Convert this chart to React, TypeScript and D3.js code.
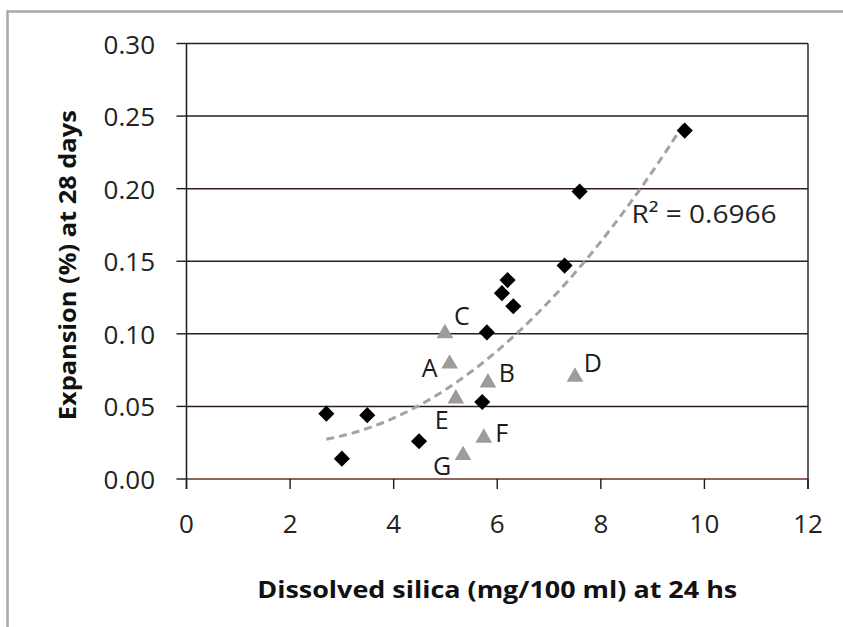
import React from "react";
import * as d3 from "d3";

// black diamonds: all mixes
const mixSilica = [2.7, 3.0, 3.49, 4.49, 5.71, 5.8, 6.09, 6.2, 6.31, 7.3, 7.59, 9.62];
const mixExpansion = [0.045, 0.014, 0.044, 0.026, 0.053, 0.101, 0.128, 0.137, 0.119, 0.147, 0.198, 0.24];

// grey triangles: labelled aggregates
const aggNames = ["A", "B", "C", "D", "E", "F", "G"];
const aggSilica = [5.08, 5.82, 4.99, 7.5, 5.2, 5.74, 5.34];
const aggExpansion = [0.081, 0.068, 0.102, 0.072, 0.057, 0.03, 0.018];

const xTicks = [0, 2, 4, 6, 8, 10, 12];
const yTicks = [0, 0.05, 0.1, 0.15, 0.2, 0.25, 0.3];
const r2Text = "R\u00b2 = 0.6966";
const xTitle = "Dissolved silica (mg/100 ml) at 24 hs";
const yTitle = "Expansion (%) at 28 days";

// where each letter sits relative to its triangle (px)
const labelOffset: Record<string, [number, number]> = {
  A: [-20, 6],
  B: [19, -8],
  C: [17, -16],
  D: [18, -12],
  E: [-14, 23],
  F: [18, -3],
  G: [-21, 12],
};

// least squares 2nd order polynomial, like the spreadsheet trendline
function fitQuadratic(xs: number[], ys: number[]) {
  const s = [0, 0, 0, 0, 0];
  const t = [0, 0, 0];
  xs.forEach((x, i) => {
    for (let k = 0; k < 5; k++) s[k] += Math.pow(x, k);
    for (let k = 0; k < 3; k++) t[k] += Math.pow(x, k) * ys[i];
  });
  const m = [
    [s[0], s[1], s[2], t[0]],
    [s[1], s[2], s[3], t[1]],
    [s[2], s[3], s[4], t[2]],
  ];
  for (let i = 0; i < 3; i++) {
    for (let j = i + 1; j < 3; j++) {
      const f = m[j][i] / m[i][i];
      for (let k = i; k < 4; k++) m[j][k] -= f * m[i][k];
    }
  }
  const c = [0, 0, 0];
  for (let i = 2; i >= 0; i--) {
    let v = m[i][3];
    for (let k = i + 1; k < 3; k++) v -= m[i][k] * c[k];
    c[i] = v / m[i][i];
  }
  return (x: number) => c[0] + c[1] * x + c[2] * x * x;
}

const W = 843;
const H = 627;
const FONT = "'Open Sans', sans-serif";

export default function App() {
  const x = d3.scaleLinear().domain([0, 12]).range([186.5, 808]);
  const y = d3.scaleLinear().domain([0, 0.3]).range([479, 43.5]);

  const allX = mixSilica.concat(aggSilica);
  const allY = mixExpansion.concat(aggExpansion);
  const trend = fitQuadratic(allX, allY);
  const [x0, x1] = d3.extent(allX) as [number, number];
  const trendPts = d3.range(0, 81).map((i) => x0 + ((x1 - x0) * i) / 80);
  const trendPath = d3
    .line<number>()
    .x((d) => x(d))
    .y((d) => y(trend(d)))(trendPts);

  const diamond = d3.symbol(d3.symbolSquare, 130)();
  const triSize = 120;
  const triR = Math.sqrt(triSize / (Math.sqrt(3) * 3));
  const triangle = d3.symbol(d3.symbolTriangle, triSize)();

  const [left, right] = x.range();
  const [bottom, top] = y.range();

  return (
    <svg
      width={W}
      height={H}
      style={{ position: "absolute", left: 0, top: 0, background: "#fff" }}
    >
      <rect x={0} y={0} width={W} height={H} fill="#fff" />
      {/* outer chart frame, runs off the right and bottom */}
      <rect x={7.5} y={11.5} width={W + 20} height={H + 20} fill="none" stroke="#a9a9a9" strokeWidth={2.5} />

      {/* grid */}
      {yTicks.slice(1).map((t) => (
        <line key={t} x1={left} x2={right} y1={y(t)} y2={y(t)} stroke="#2e1c1c" strokeWidth={1.5} />
      ))}
      <line x1={right} x2={right} y1={top} y2={bottom + 10} stroke="#2a2a2a" strokeWidth={1.5} />

      {/* y axis */}
      <line x1={left} x2={left} y1={top} y2={bottom + 10} stroke="#1a1a1a" strokeWidth={1.5} />
      {yTicks.map((t) => (
        <g key={t}>
          <line x1={left - 10} x2={left} y1={y(t)} y2={y(t)} stroke="#1a1a1a" strokeWidth={1.4} />
          <text
            x={155}
            y={y(t)}
            textAnchor="end"
            dominantBaseline="central"
            fontFamily={FONT}
            fontSize={26}
            fill="#222"
          >
            {d3.format(".2f")(t)}
          </text>
        </g>
      ))}

      {/* x axis */}
      <line x1={left} x2={right} y1={bottom} y2={bottom} stroke="#6a3328" strokeWidth={1.5} />
      {xTicks.map((t) => (
        <g key={t}>
          <line x1={x(t)} x2={x(t)} y1={bottom} y2={bottom + 10} stroke="#1a1a1a" strokeWidth={1.4} />
          <text
            x={x(t)}
            y={533}
            textAnchor="middle"
            fontFamily={FONT}
            fontSize={26}
            fill="#222"
          >
            {t}
          </text>
        </g>
      ))}

      {/* trendline */}
      <path d={trendPath ?? ""} fill="none" stroke="#a3a3a3" strokeWidth={3} strokeDasharray="8 5" />

      {/* mixes */}
      {mixSilica.map((s, i) => (
        <path
          key={"m" + i}
          d={diamond ?? ""}
          transform={`translate(${x(s)},${y(mixExpansion[i])}) rotate(45)`}
          fill="#000"
        />
      ))}

      {/* aggregates */}
      {aggNames.map((n, i) => {
        const px = x(aggSilica[i]);
        const py = y(aggExpansion[i]);
        const [dx, dy] = labelOffset[n];
        return (
          <g key={n}>
            <path d={triangle ?? ""} transform={`translate(${px},${py + triR / 2})`} fill="#9c9c9c" />
            <text
              x={px + dx}
              y={py + dy}
              textAnchor="middle"
              dominantBaseline="central"
              fontFamily={FONT}
              fontSize={25}
              fill="#1a1a1a"
            >
              {n}
            </text>
          </g>
        );
      })}

      <text
        x={704}
        y={223}
        textAnchor="middle"
        fontFamily={FONT}
        fontSize={26}
        fill="#222"
        textLength={145}
        lengthAdjust="spacingAndGlyphs"
      >
        {r2Text}
      </text>

      <text
        x={(left + right) / 2}
        y={598}
        textAnchor="middle"
        fontFamily={FONT}
        fontSize={24}
        fontWeight="bold"
        fill="#111"
        textLength={480}
        lengthAdjust="spacingAndGlyphs"
      >
        {xTitle}
      </text>
      <text
        transform={`translate(76,${(top + bottom) / 2 + 4}) rotate(-90)`}
        textAnchor="middle"
        fontFamily={FONT}
        fontSize={24}
        fontWeight="bold"
        fill="#111"
        textLength={310}
        lengthAdjust="spacingAndGlyphs"
      >
        {yTitle}
      </text>
    </svg>
  );
}
